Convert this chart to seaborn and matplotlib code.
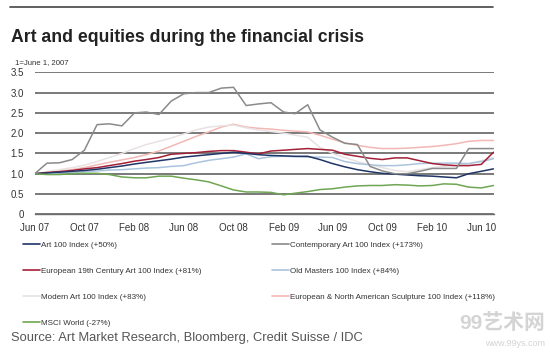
import matplotlib
matplotlib.use("Agg")
import matplotlib.pyplot as plt
import matplotlib.dates as mdates
from matplotlib.lines import Line2D
import numpy as np
import pandas as pd
import seaborn as sns

dates = pd.date_range("2007-06-01", periods=38, freq="MS")

art100 = [1.0, 1.02, 1.04, 1.06, 1.08, 1.11, 1.15, 1.19, 1.24, 1.28, 1.32, 1.36, 1.41, 1.44, 1.47, 1.50, 1.53, 1.50, 1.47,
          1.45, 1.44, 1.43, 1.43, 1.35, 1.25, 1.17, 1.10, 1.05, 1.01, 0.99, 0.97, 0.95, 0.94, 0.92, 0.90, 1.00, 1.06, 1.12]
contemporary = [1.0, 1.26, 1.27, 1.35, 1.58, 2.21, 2.23, 2.18, 2.50, 2.52, 2.46, 2.79, 2.97, 3.0, 3.0, 3.11, 3.13, 2.68, 2.72,
                2.75, 2.52, 2.48, 2.70, 2.08, 1.90, 1.75, 1.72, 1.18, 1.07, 1.0, 1.0, 1.06, 1.13, 1.13, 1.13, 1.62, 1.62, 1.62]
euro19 = [1.0, 1.03, 1.05, 1.08, 1.12, 1.15, 1.20, 1.25, 1.31, 1.35, 1.40, 1.48, 1.50, 1.52, 1.55, 1.57, 1.57, 1.53, 1.49,
          1.56, 1.58, 1.60, 1.62, 1.60, 1.58, 1.48, 1.43, 1.38, 1.35, 1.39, 1.39, 1.32, 1.25, 1.22, 1.20, 1.20, 1.23, 1.53]
old_masters = [1.0, 1.0, 1.02, 1.03, 1.05, 1.07, 1.09, 1.10, 1.12, 1.14, 1.15, 1.18, 1.20, 1.27, 1.33, 1.37, 1.41, 1.49, 1.37,
               1.42, 1.43, 1.42, 1.41, 1.41, 1.40, 1.30, 1.25, 1.22, 1.20, 1.20, 1.22, 1.25, 1.26, 1.26, 1.26, 1.25, 1.30, 1.37]
modern = [1.0, 1.05, 1.10, 1.15, 1.21, 1.30, 1.40, 1.50, 1.62, 1.72, 1.80, 1.88, 1.98, 2.08, 2.15, 2.18, 2.20, 2.13, 2.08,
          2.04, 2.00, 1.95, 1.90, 1.65, 1.50, 1.40, 1.30, 1.22, 1.15, 1.08, 1.05, 1.10, 1.15, 1.18, 1.20, 1.25, 1.32, 1.40]
sculpture = [1.0, 1.03, 1.07, 1.10, 1.15, 1.22, 1.28, 1.34, 1.40, 1.47, 1.56, 1.68, 1.80, 1.92, 2.03, 2.15, 2.22, 2.15, 2.12,
             2.10, 2.07, 2.05, 2.03, 1.95, 1.85, 1.76, 1.70, 1.65, 1.62, 1.62, 1.63, 1.65, 1.67, 1.70, 1.74, 1.80, 1.82, 1.82]
msci = [1.0, 0.98, 0.98, 1.0, 1.01, 1.01, 0.98, 0.92, 0.90, 0.90, 0.94, 0.94, 0.89, 0.85, 0.80, 0.70, 0.60, 0.55, 0.55,
        0.54, 0.48, 0.52, 0.56, 0.61, 0.63, 0.67, 0.70, 0.71, 0.71, 0.73, 0.72, 0.70, 0.71, 0.75, 0.74, 0.67, 0.65, 0.71]

series_names = [
    "Art 100 Index (+50%)",
    "Contemporary Art 100 Index (+173%)",
    "European 19th Century Art 100 Index (+81%)",
    "Old Masters 100 Index (+84%)",
    "Modern Art 100 Index (+83%)",
    "European & North American Sculpture 100 Index (+118%)",
    "MSCI World (-27%)",
]
series_values = [art100, contemporary, euro19, old_masters, modern, sculpture, msci]
series_colors = ["#1f3566", "#8a8a8a", "#a32038", "#aac4de", "#e8e2e2", "#f2b8b4", "#6fa653"]

y_ticks = [0, 0.5, 1.0, 1.5, 2.0, 2.5, 3.0, 3.5]
y_tick_labels = ["0", "0.5", "1.0", "1.5", "2.0", "2.5", "3.0", "3.5"]

df = pd.concat(
    [pd.DataFrame({"date": dates, "value": v, "series": n}) for n, v in zip(series_names, series_values)],
    ignore_index=True,
)

sns.set_theme(style="white")
plt.rcParams["font.family"] = ["Liberation Sans", "Noto Sans CJK SC", "DejaVu Sans"]

fig = plt.figure(figsize=(5.5, 3.54), dpi=100)
ax = fig.add_axes([34.7 / 550, 1 - 214.3 / 354, (493.5 - 34.7) / 550, (214.3 - 72.3) / 354])

draw_order = [5, 4, 3, 2, 0, 6, 1]
palette = dict(zip(series_names, series_colors))
sns.lineplot(data=df, x="date", y="value", hue="series", hue_order=[series_names[i] for i in draw_order],
             palette=palette, linewidth=1.1, ax=ax, legend=False)

ax.set_xlim(dates[0], dates[-1])
ax.set_ylim(0, 3.5)
ax.set_yticks(y_ticks)
ax.set_yticklabels(y_tick_labels)
ax.set_xlabel("")
ax.set_ylabel("")
ax.yaxis.grid(True, color="#6e6e6e", linewidth=1.3)
ax.set_axisbelow(True)
for s in ["left", "right", "top"]:
    ax.spines[s].set_visible(False)
ax.spines["bottom"].set_color("#6e6e6e")
ax.spines["bottom"].set_linewidth(1.0)

xt = pd.date_range("2007-06-01", "2010-06-01", freq="4MS")
ax.set_xticks(xt)
ax.xaxis.set_major_formatter(mdates.DateFormatter("%b %y"))
ax.tick_params(axis="x", direction="out", length=2.5, width=0.8, color="#6e6e6e", labelsize=7, pad=4, labelcolor="#333333")
ax.tick_params(axis="y", length=0, labelsize=7, pad=8, labelcolor="#333333")

# header rule and titles
fig.add_artist(Line2D([10 / 550, 493 / 550], [1 - 7 / 354, 1 - 7 / 354], color="#444444", linewidth=1.2))
fig.text(11 / 550, 1 - 37 / 354, "Art and equities during the financial crisis", fontsize=12.7,
         fontweight="bold", color="#222222", va="center", ha="left")
fig.text(15 / 550, 1 - 63 / 354, "1=June 1, 2007", fontsize=5.6, color="#333333", va="center", ha="left")

# legend: two columns
handles = [Line2D([], [], color=c, linewidth=1.2) for c in series_colors]
left_idx = [0, 2, 4, 6]
right_idx = [1, 3, 5]
for idx, xpos in [(left_idx, 23), (right_idx, 272)]:
    leg = fig.legend([handles[i] for i in idx], [series_names[i] for i in idx],
                     loc="upper left", bbox_to_anchor=(xpos / 550, 1 - 241 / 354),
                     frameon=False, fontsize=5.8, handlelength=2.1, handletextpad=0.15,
                     labelspacing=2.3, borderpad=0, borderaxespad=0)
    for t in leg.get_texts():
        t.set_color("#333333")

fig.text(11 / 550, 1 - 338 / 354, "Source: Art Market Research, Bloomberg, Credit Suisse / IDC",
         fontsize=9.3, color="#555555", va="center", ha="left")

# watermark
fig.text(545 / 550, 1 - 323 / 354, "99艺术网", fontsize=15, color="#d4d4d4", va="center", ha="right",
         fontweight="bold")
fig.text(545 / 550, 1 - 343 / 354, "www.99ys.com", fontsize=6.5, color="#d4d4d4", va="center", ha="right")

fig.savefig("out.png", dpi=100)
